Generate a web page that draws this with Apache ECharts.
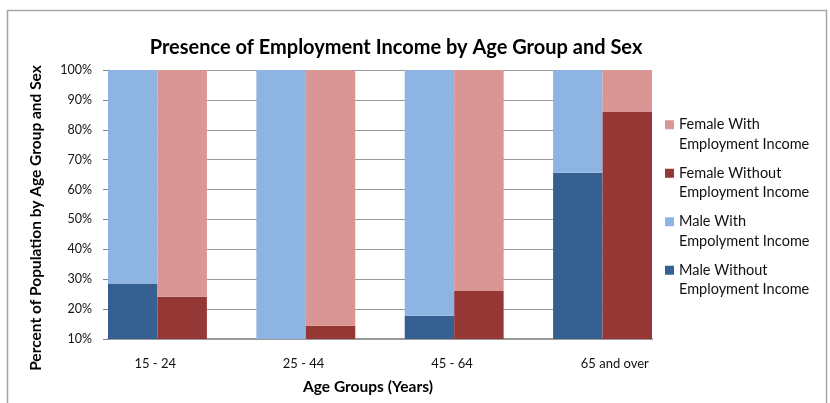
<!DOCTYPE html>
<html>
<head>
<meta charset="utf-8">
<script src="https://cdn.jsdelivr.net/npm/echarts@6/dist/echarts.min.js"></script>
<style>html,body{margin:0;padding:0;background:#fff}#c{width:830px;height:403px}</style>
</head>
<body>
<div id="c"></div>
<script>
var categories = ["15 - 24", "25 - 44", "45 - 64", "65 and over"];
var maleWithout = [28.6, 7, 17.8, 65.6];
var maleWith = [71.4, 93, 82.2, 34.4];
var femaleWithout = [24.1, 14.4, 26.1, 86.1];
var femaleWith = [75.9, 85.6, 73.9, 13.9];
var yTicks = ["10%", "20%", "30%", "40%", "50%", "60%", "70%", "80%", "90%", "100%"];
var seriesNames = {
  fw: "Female With Employment Income",
  fwo: "Female Without Employment Income",
  mw: "Male With Empolyment Income",
  mwo: "Male Without Employment Income"
};

// Build slot layout: male, female, spacer per age group (no trailing spacer)
var slots = [];
var slotLabel = [];
function slotData(arr, offset) {
  var out = [];
  for (var i = 0; i < categories.length; i++) {
    for (var k = 0; k < 3; k++) {
      if (i === categories.length - 1 && k === 2) continue;
      out.push(k === offset ? arr[i] : '-');
    }
  }
  return out;
}
for (var i = 0; i < categories.length; i++) {
  slots.push(categories[i] + '|m'); slotLabel.push(categories[i]);
  slots.push(categories[i] + '|f'); slotLabel.push('');
  if (i < categories.length - 1) { slots.push(categories[i] + '|g'); slotLabel.push(''); }
}

var FONT = 'Lato';
var chart = echarts.init(document.getElementById('c'), null, {renderer: 'canvas'});
var iconPath = 'path://M0,0h10v10h-10z M0,31.6h0.01v0.01h-0.01z';
chart.setOption({
  animation: false,
  textStyle: {fontFamily: FONT},
  title: {
    text: 'Presence of Employment Income by Age Group and Sex',
    left: 391, top: 33, textAlign: 'center',
    textStyle: {fontFamily: FONT, fontWeight: 'bold', fontSize: 20, color: '#000'}
  },
  legend: {
    orient: 'vertical', left: 660, top: 110,
    itemWidth: 9, itemHeight: 28.5, itemGap: 9.5,
    icon: iconPath, symbolKeepAspect: false,
    data: [seriesNames.fw, seriesNames.fwo, seriesNames.mw, seriesNames.mwo],
    formatter: function (n) { return n.replace(' Employment', '\nEmployment').replace(' Empolyment', '\nEmpolyment'); },
    textStyle: {fontFamily: FONT, fontSize: 14.5, color: '#111', lineHeight: 19.5}
  },
  grid: {left: 108, right: 178, top: 70, bottom: 64},
  xAxis: {
    type: 'category', data: slots,
    name: 'Age Groups (Years)', nameLocation: 'middle', nameGap: 40,
    nameTextStyle: {fontFamily: FONT, fontWeight: 'bold', fontSize: 15.5, color: '#000', padding: [0, 24, 0, 0]},
    axisLine: {lineStyle: {color: '#9a9a9a', width: 2}},
    axisTick: {show: false},
    axisLabel: {
      interval: 0, margin: 18, color: '#000', fontSize: 13, fontFamily: FONT,
      formatter: function (v, idx) {
        if (!slotLabel[idx]) return '';
        return (idx === slots.length - 2 ? '{b|' : '{a|') + slotLabel[idx] + '}';
      },
      rich: {
        a: {padding: [0, 0, 0, 45], fontSize: 13, fontFamily: FONT, color: '#111'},
        b: {padding: [0, 0, 0, 74], fontSize: 13, fontFamily: FONT, color: '#111'}
      }
    }
  },
  yAxis: {
    type: 'value', min: 10, max: 100, interval: 10,
    name: 'Percent of Population by Age Group and Sex', nameLocation: 'middle', nameGap: 64,
    nameTextStyle: {fontFamily: FONT, fontWeight: 'bold', fontSize: 15.5, color: '#000', padding: [0, 27, 0, 0]},
    axisLine: {show: true, lineStyle: {color: '#868686'}},
    axisTick: {show: true, length: 5, lineStyle: {color: '#868686'}},
    splitLine: {lineStyle: {color: '#9a9a9a'}},
    axisLabel: {
      margin: 16, color: '#111', fontSize: 12.5, fontFamily: FONT,
      formatter: function (v) { return yTicks[Math.round(v / 10) - 1]; }
    }
  },
  series: [
    {name: seriesNames.mwo, type: 'bar', stack: 'all', barWidth: '100%', data: slotData(maleWithout, 0), itemStyle: {color: '#376092'}},
    {name: seriesNames.mw, type: 'bar', stack: 'all', barWidth: '100%', data: slotData(maleWith, 0), itemStyle: {color: '#8EB4E3'}},
    {name: seriesNames.fwo, type: 'bar', stack: 'all', barWidth: '100%', data: slotData(femaleWithout, 1), itemStyle: {color: '#953735'}},
    {name: seriesNames.fw, type: 'bar', stack: 'all', barWidth: '100%', data: slotData(femaleWith, 1), itemStyle: {color: '#D99694'}}
  ],
  graphic: [{
    type: 'rect', silent: true, z: -1,
    shape: {x: 7.5, y: 10.5, width: 819, height: 420},
    style: {fill: 'none', stroke: '#a6a6a6', lineWidth: 1.5}
  }]
});
</script>
</body>
</html>
